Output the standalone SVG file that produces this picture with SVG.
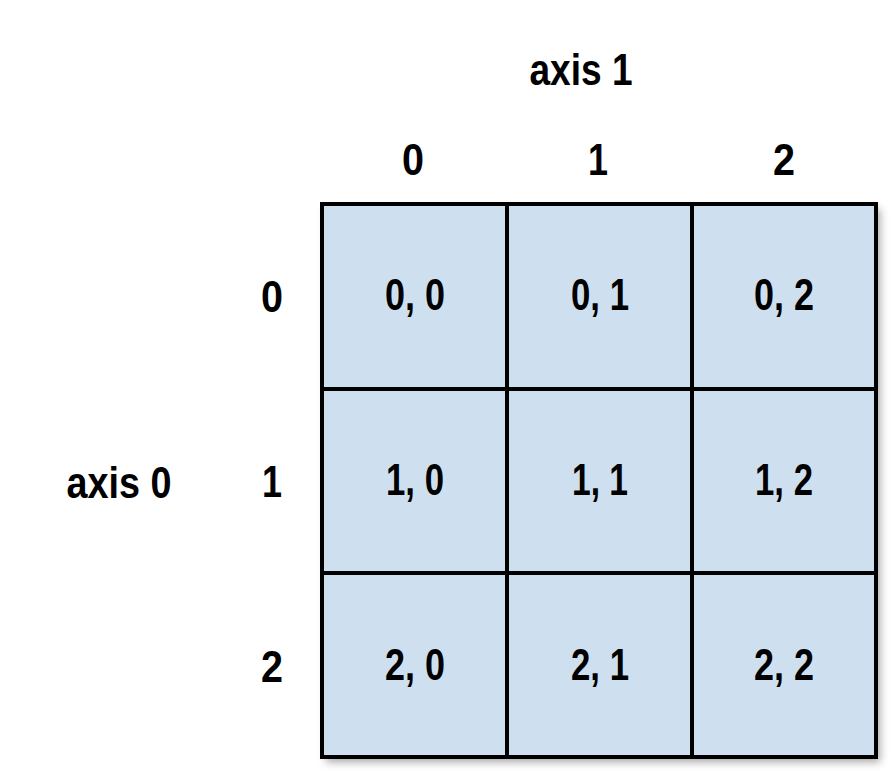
<svg xmlns="http://www.w3.org/2000/svg" width="894" height="779" viewBox="0 0 894 779">
<defs>
<filter id="sh" x="-10%" y="-10%" width="120%" height="120%">
<feDropShadow dx="4" dy="5" stdDeviation="4" flood-color="#000" flood-opacity="0.35"/>
</filter>
<style>
.cell rect{fill:#cee0f0;stroke:#000;stroke-width:4}
text{font-family:"Liberation Sans",Arial,sans-serif;font-weight:bold;font-size:45px;fill:#000;text-anchor:middle}
</style>
</defs>
<rect width="894" height="779" fill="#fff"/>
<rect x="322" y="204" width="554" height="553" fill="#cee0f0" filter="url(#sh)"/>
<g id="labels">
<text x="581" y="85" textLength="103" lengthAdjust="spacingAndGlyphs">axis 1</text>
<text x="119" y="498" textLength="105" lengthAdjust="spacingAndGlyphs">axis 0</text>
<text x="413" y="175" textLength="22" lengthAdjust="spacingAndGlyphs">0</text>
<text x="598" y="175" textLength="20" lengthAdjust="spacingAndGlyphs">1</text>
<text x="784" y="175" textLength="22" lengthAdjust="spacingAndGlyphs">2</text>
<text x="272" y="312" textLength="22" lengthAdjust="spacingAndGlyphs">0</text>
<text x="272" y="497" textLength="20" lengthAdjust="spacingAndGlyphs">1</text>
<text x="272" y="682" textLength="22" lengthAdjust="spacingAndGlyphs">2</text>
</g>
<g id="cell-0-0" class="cell"><rect x="322" y="204" width="185" height="185"/><text x="415" y="310" textLength="60" lengthAdjust="spacingAndGlyphs">0, 0</text></g>
<g id="cell-0-1" class="cell"><rect x="507" y="204" width="185" height="185"/><text x="600" y="310" textLength="58" lengthAdjust="spacingAndGlyphs">0, 1</text></g>
<g id="cell-0-2" class="cell"><rect x="692" y="204" width="184" height="185"/><text x="784" y="310" textLength="60" lengthAdjust="spacingAndGlyphs">0, 2</text></g>
<g id="cell-1-0" class="cell"><rect x="322" y="389" width="185" height="184"/><text x="415" y="495" textLength="58" lengthAdjust="spacingAndGlyphs">1, 0</text></g>
<g id="cell-1-1" class="cell"><rect x="507" y="389" width="185" height="184"/><text x="600" y="495" textLength="56" lengthAdjust="spacingAndGlyphs">1, 1</text></g>
<g id="cell-1-2" class="cell"><rect x="692" y="389" width="184" height="184"/><text x="784" y="495" textLength="58" lengthAdjust="spacingAndGlyphs">1, 2</text></g>
<g id="cell-2-0" class="cell"><rect x="322" y="573" width="185" height="184"/><text x="415" y="680" textLength="60" lengthAdjust="spacingAndGlyphs">2, 0</text></g>
<g id="cell-2-1" class="cell"><rect x="507" y="573" width="185" height="184"/><text x="600" y="680" textLength="58" lengthAdjust="spacingAndGlyphs">2, 1</text></g>
<g id="cell-2-2" class="cell"><rect x="692" y="573" width="184" height="184"/><text x="784" y="680" textLength="60" lengthAdjust="spacingAndGlyphs">2, 2</text></g>
<g id="connectors"/>
</svg>
